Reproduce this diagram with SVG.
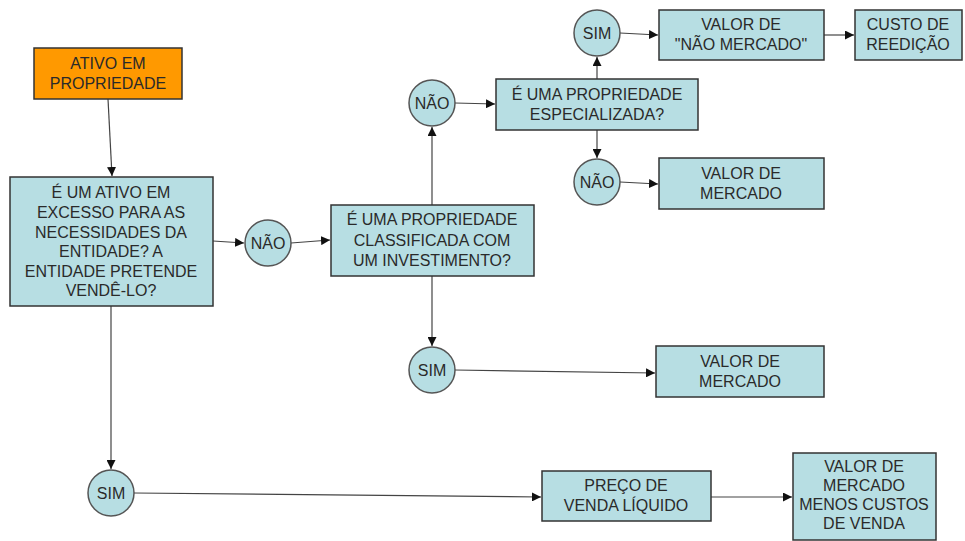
<svg xmlns="http://www.w3.org/2000/svg" width="965" height="541" viewBox="0 0 965 541">
<defs>
<marker id="ah" viewBox="0 0 10 10" refX="10" refY="5" markerWidth="9" markerHeight="9" markerUnits="userSpaceOnUse" orient="auto">
<path d="M0,0 L10,5 L0,10 z" fill="#111"/>
</marker>
<style>
.box{fill:#B7DEE3;stroke:#333;stroke-width:1.5}
.org{fill:#FF9900;stroke:#333;stroke-width:1.5}
.cir{fill:#B7DEE3;stroke:#555;stroke-width:1.5}
.t{font-family:"Liberation Sans",Arial,sans-serif;font-size:16px;fill:#2a2a2a;text-anchor:middle}
.c{stroke:#444;stroke-width:1.2;fill:none;marker-end:url(#ah)}
</style>
</defs>
<rect width="965" height="541" fill="#fff"/>
<g id="connectors">
<line class="c" x1="108" y1="99" x2="112" y2="176"/>
<line class="c" x1="213" y1="241" x2="244" y2="243"/>
<line class="c" x1="291" y1="243" x2="330" y2="240"/>
<line class="c" x1="432" y1="205" x2="432" y2="127"/>
<line class="c" x1="455" y1="103" x2="495" y2="104"/>
<line class="c" x1="597" y1="79" x2="597" y2="57"/>
<line class="c" x1="620" y1="33" x2="658" y2="35"/>
<line class="c" x1="824" y1="35" x2="854" y2="35"/>
<line class="c" x1="597" y1="130" x2="597" y2="158"/>
<line class="c" x1="620" y1="182" x2="658" y2="184"/>
<line class="c" x1="432" y1="276" x2="432" y2="346"/>
<line class="c" x1="455" y1="370" x2="655" y2="373"/>
<line class="c" x1="111" y1="306" x2="111" y2="469"/>
<line class="c" x1="134" y1="493" x2="541" y2="497"/>
<line class="c" x1="711" y1="497" x2="792" y2="497"/>
</g>
<g id="ativo">
<rect class="org" x="34" y="48" width="148" height="51"/>
<text class="t" x="108" y="69">ATIVO EM</text>
<text class="t" x="108" y="89">PROPRIEDADE</text>
</g>
<g id="q1">
<rect class="box" x="10" y="177" width="203" height="129"/>
<text class="t" x="111" y="198">É UM ATIVO EM</text>
<text class="t" x="111" y="218">EXCESSO PARA AS</text>
<text class="t" x="111" y="238">NECESSIDADES DA</text>
<text class="t" x="111" y="257">ENTIDADE? A</text>
<text class="t" x="111" y="277">ENTIDADE PRETENDE</text>
<text class="t" x="111" y="296">VENDÊ-LO?</text>
</g>
<g id="nao1">
<circle class="cir" cx="268" cy="243" r="23"/>
<text class="t" x="268" y="249">NÃO</text>
</g>
<g id="q2">
<rect class="box" x="331" y="205" width="203" height="71"/>
<text class="t" x="432" y="225">É UMA PROPRIEDADE</text>
<text class="t" x="432" y="246">CLASSIFICADA COM</text>
<text class="t" x="432" y="266">UM INVESTIMENTO?</text>
</g>
<g id="nao2">
<circle class="cir" cx="432" cy="103" r="23"/>
<text class="t" x="432" y="109">NÃO</text>
</g>
<g id="q3">
<rect class="box" x="496" y="79" width="202" height="51"/>
<text class="t" x="597" y="100">É UMA PROPRIEDADE</text>
<text class="t" x="597" y="120">ESPECIALIZADA?</text>
</g>
<g id="sim1">
<circle class="cir" cx="597" cy="33" r="23"/>
<text class="t" x="597" y="39">SIM</text>
</g>
<g id="naomercado">
<rect class="box" x="659" y="10" width="165" height="50"/>
<text class="t" x="741" y="30">VALOR DE</text>
<text class="t" x="741" y="50">"NÃO MERCADO"</text>
</g>
<g id="custo">
<rect class="box" x="855" y="10" width="107" height="50"/>
<text class="t" x="908" y="30">CUSTO DE</text>
<text class="t" x="908" y="50">REEDIÇÃO</text>
</g>
<g id="nao3">
<circle class="cir" cx="597" cy="182" r="23"/>
<text class="t" x="597" y="188">NÃO</text>
</g>
<g id="mercado1">
<rect class="box" x="659" y="158" width="165" height="51"/>
<text class="t" x="741" y="179">VALOR DE</text>
<text class="t" x="741" y="199">MERCADO</text>
</g>
<g id="sim2">
<circle class="cir" cx="432" cy="370" r="23"/>
<text class="t" x="432" y="376">SIM</text>
</g>
<g id="mercado2">
<rect class="box" x="656" y="346" width="168" height="51"/>
<text class="t" x="740" y="367">VALOR DE</text>
<text class="t" x="740" y="387">MERCADO</text>
</g>
<g id="sim3">
<circle class="cir" cx="111" cy="493" r="23"/>
<text class="t" x="111" y="499">SIM</text>
</g>
<g id="preco">
<rect class="box" x="542" y="471" width="169" height="50"/>
<text class="t" x="626" y="491">PREÇO DE</text>
<text class="t" x="626" y="511">VENDA LÍQUIDO</text>
</g>
<g id="menoscustos">
<rect class="box" x="793" y="453" width="143" height="87"/>
<text class="t" x="864" y="472">VALOR DE</text>
<text class="t" x="864" y="491">MERCADO</text>
<text class="t" x="864" y="510">MENOS CUSTOS</text>
<text class="t" x="864" y="529">DE VENDA</text>
</g>
</svg>
